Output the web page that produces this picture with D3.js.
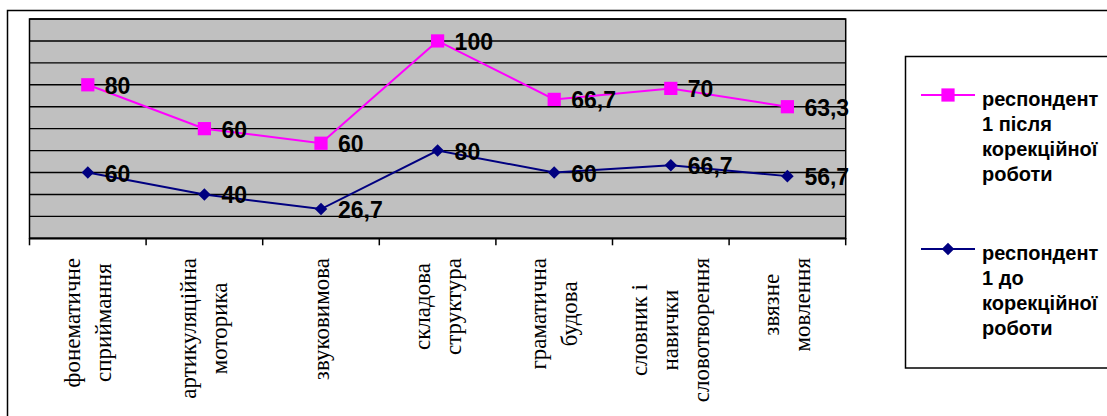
<!DOCTYPE html>
<html>
<head>
<meta charset="utf-8">
<script src="https://cdn.jsdelivr.net/npm/d3@7/dist/d3.min.js"></script>
<style>
  html, body { margin: 0; padding: 0; background: #fff; }
  svg { display: block; }
</style>
</head>
<body>
<svg id="chart" width="1107" height="416"></svg>
<script>
const categories = [
  ["фонематичне", "сприймання"],
  ["артикуляційна", "моторика"],
  ["звуковимова"],
  ["складова", "структура"],
  ["граматична", "будова"],
  ["словник і", "навички", "словотворення"],
  ["звязне", "мовлення"]
];
const afterValues = [80, 60, 60, 100, 66.7, 70, 63.3];
const beforeValues = [60, 40, 26.7, 80, 60, 66.7, 56.7];
const seriesNames = [
  ["респондент", "1 після", "корекційної", "роботи"],
  ["респондент", "1 до", "корекційної", "роботи"]
];
const yTicks = [0, 20, 40, 60, 80, 100, 120, 140, 160, 180, 200];

const svg = d3.select("#chart");
const plot = { left: 29.5, right: 845.7, top: 19, bottom: 238.3 };
const sans = "'Liberation Sans', Arial, sans-serif";
const serif = "'Liberation Serif', 'Times New Roman', serif";
const pink = "#FF00FF", navy = "#000080";

// outer frame
svg.append("rect").attr("x", 7.5).attr("y", 10.5).attr("width", 1300).attr("height", 600)
  .attr("fill", "#fff").attr("stroke", "#000").attr("stroke-width", 1.5);

const idx = categories.map((d, i) => i);
const x = d3.scaleBand().domain(idx).range([plot.left, plot.right]);
const y = d3.scaleLinear().domain([0, 200]).range([plot.bottom, plot.top]);

// stacked values
const stackedBefore = beforeValues;
const stackedAfter = afterValues.map((v, i) => v + beforeValues[i]);

// plot background
svg.append("rect").attr("x", plot.left).attr("y", plot.top)
  .attr("width", plot.right - plot.left).attr("height", plot.bottom - plot.top)
  .attr("fill", "#C0C0C0");

// gridlines
svg.append("g").selectAll("line").data(yTicks).join("line")
  .attr("x1", plot.left).attr("x2", plot.right)
  .attr("y1", d => y(d)).attr("y2", d => y(d))
  .attr("stroke", "#000").attr("stroke-width", 1.4);

// border
svg.append("rect").attr("x", plot.left).attr("y", plot.top)
  .attr("width", plot.right - plot.left).attr("height", plot.bottom - plot.top)
  .attr("fill", "none").attr("stroke", "#000").attr("stroke-width", 1.5);

// x axis ticks at band boundaries
const xAxis = d3.axisBottom(x).tickSize(0).tickFormat("");
const gx = svg.append("g").attr("transform", `translate(0,${plot.bottom})`).call(xAxis);
gx.select(".domain").attr("stroke", "#000").attr("stroke-width", 1.5);
const bounds = idx.map(i => x(i)).concat([plot.right]);
gx.selectAll("line.bnd").data(bounds).join("line").attr("class", "bnd")
  .attr("x1", d => d).attr("x2", d => d).attr("y1", 0).attr("y2", 7)
  .attr("stroke", "#000").attr("stroke-width", 1.5);

// category labels (rotated)
const lineGap = 31;
const labelTop = 258;
idx.forEach(i => {
  const lines = categories[i];
  const cx = x(i) + x.bandwidth() / 2;
  const g = svg.append("g");
  const texts = lines.map((t, j) => g.append("text")
    .attr("font-family", serif).attr("font-size", 23).attr("fill", "#000")
    .attr("text-anchor", "middle").attr("dominant-baseline", "central")
    .text(t));
  const maxLen = d3.max(texts, t => t.node().getComputedTextLength());
  texts.forEach((t, j) => {
    const lx = cx + (j - (lines.length - 1) / 2) * lineGap;
    t.attr("transform", `translate(${lx},${labelTop + maxLen / 2}) rotate(-90)`);
  });
});

const line = d3.line().x((d, i) => x(i) + x.bandwidth() / 2).y(d => y(d));

// series lines
svg.append("path").datum(stackedBefore).attr("d", line)
  .attr("fill", "none").attr("stroke", navy).attr("stroke-width", 2);
svg.append("path").datum(stackedAfter).attr("d", line)
  .attr("fill", "none").attr("stroke", pink).attr("stroke-width", 2);

const sq = d3.symbol().type(d3.symbolSquare).size(175);
const dia = d3.symbol().type(d3.symbolDiamond2).size(100);

svg.append("g").selectAll("path").data(stackedBefore).join("path")
  .attr("d", dia)
  .attr("transform", (d, i) => `translate(${x(i) + x.bandwidth() / 2},${y(d)})`)
  .attr("fill", navy);
svg.append("g").selectAll("path").data(stackedAfter).join("path")
  .attr("d", sq)
  .attr("transform", (d, i) => `translate(${x(i) + x.bandwidth() / 2},${y(d)})`)
  .attr("fill", pink);

const fmt = v => String(v).replace(".", ",");
function labels(stacked, vals) {
  svg.append("g").selectAll("text").data(vals).join("text")
    .attr("x", (d, i) => x(i) + x.bandwidth() / 2 + 17)
    .attr("y", (d, i) => y(stacked[i]) + 1)
    .attr("dominant-baseline", "central")
    .attr("font-family", sans).attr("font-weight", "bold").attr("font-size", 23)
    .attr("fill", "#000")
    .text(d => fmt(d));
}
labels(stackedAfter, afterValues);
labels(stackedBefore, beforeValues);

// legend
svg.append("rect").attr("x", 905.5).attr("y", 56.5).attr("width", 400).attr("height", 311.5)
  .attr("fill", "#fff").attr("stroke", "#000").attr("stroke-width", 1.5);

const legendItems = [
  { names: seriesNames[0], color: pink, sym: sq, base: 106 },
  { names: seriesNames[1], color: navy, sym: dia, base: 260 }
];
legendItems.forEach(it => {
  const ly = it.base - 11;
  svg.append("line").attr("x1", 921).attr("x2", 975).attr("y1", ly).attr("y2", ly)
    .attr("stroke", it.color).attr("stroke-width", 2);
  svg.append("path").attr("d", it.sym).attr("transform", `translate(948,${ly})`).attr("fill", it.color);
  it.names.forEach((t, j) => {
    svg.append("text").attr("x", 982).attr("y", it.base + j * 25)
      .attr("font-family", sans).attr("font-weight", "bold").attr("font-size", 20)
      .attr("fill", "#000").text(t);
  });
});
</script>
</body>
</html>
